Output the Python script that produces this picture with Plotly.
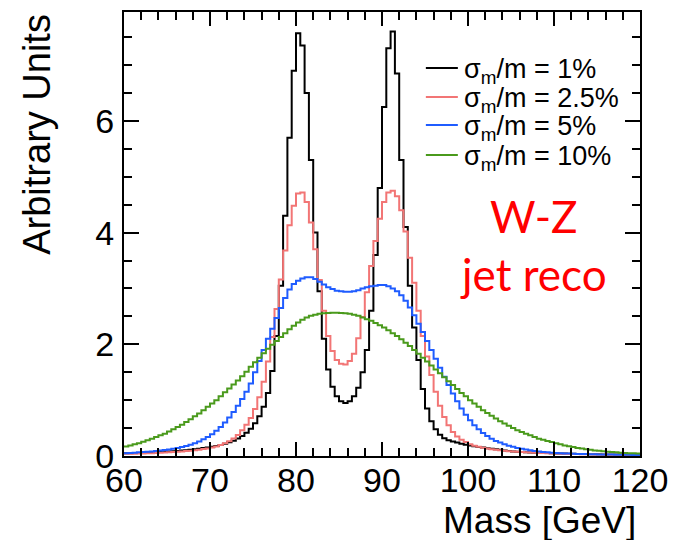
import numpy as np
import plotly.graph_objects as go

# ---- data (bin contents, 0.5 GeV bins from 60 to 120 GeV) ----
bin_start = 60.0
bin_width = 0.5

black_1pct = [
    0.05, 0.05, 0.052, 0.055, 0.057, 0.061, 0.064, 0.068, 0.072, 0.076,
    0.081, 0.086, 0.091, 0.097, 0.105, 0.113, 0.122, 0.131, 0.142, 0.154,
    0.167, 0.181, 0.197, 0.22, 0.245, 0.275, 0.315, 0.36, 0.415, 0.487,
    0.585, 0.71, 0.88, 1.13, 1.52, 2.15, 3.05, 4.3, 5.7, 6.9,
    7.57, 7.35, 6.5, 5.3, 4.0, 2.95, 2.1, 1.55, 1.24, 1.07,
    0.98, 0.95, 0.98, 1.07, 1.22, 1.5, 1.9, 2.6, 3.6, 4.8,
    6.25, 7.3, 7.6, 6.85, 5.3, 4.1, 3.05, 2.3, 1.72, 1.2,
    0.85, 0.62, 0.48, 0.38, 0.32, 0.28, 0.26, 0.24, 0.22, 0.2,
    0.19, 0.175, 0.16, 0.15, 0.14, 0.13, 0.12, 0.11, 0.1, 0.09,
    0.082, 0.077, 0.072, 0.068, 0.064, 0.06, 0.057, 0.054, 0.052, 0.05,
    0.047, 0.045, 0.043, 0.041, 0.039, 0.037, 0.035, 0.034, 0.032, 0.031,
    0.03, 0.029, 0.028, 0.027, 0.026, 0.025, 0.024, 0.023, 0.022, 0.021,
]

red_2p5pct = [
    0.04, 0.04, 0.042, 0.044, 0.046, 0.048, 0.051, 0.054, 0.058, 0.062,
    0.067, 0.071, 0.076, 0.082, 0.088, 0.096, 0.103, 0.112, 0.124, 0.136,
    0.153, 0.17, 0.197, 0.23, 0.262, 0.315, 0.378, 0.46, 0.56, 0.68,
    0.84, 1.05, 1.33, 1.69, 2.13, 2.63, 3.16, 3.68, 4.13, 4.48,
    4.7, 4.72, 4.55, 4.18, 3.7, 3.15, 2.6, 2.15, 1.88, 1.72,
    1.65, 1.64, 1.7, 1.83, 2.11, 2.49, 2.93, 3.4, 3.85, 4.25,
    4.55, 4.72, 4.75, 4.65, 4.4, 4.02, 3.55, 3.1, 2.6, 2.15,
    1.78, 1.45, 1.15, 0.9, 0.7, 0.55, 0.43, 0.35, 0.29, 0.25,
    0.21, 0.185, 0.165, 0.148, 0.133, 0.12, 0.11, 0.101, 0.094, 0.087,
    0.08, 0.075, 0.07, 0.066, 0.061, 0.058, 0.054, 0.052, 0.048, 0.046,
    0.044, 0.041, 0.039, 0.038, 0.035, 0.034, 0.033, 0.032, 0.03, 0.029,
    0.028, 0.027, 0.025, 0.024, 0.023, 0.023, 0.022, 0.021, 0.02, 0.02,
]

blue_5pct = [
    0.05, 0.055, 0.06, 0.065, 0.07, 0.075, 0.08, 0.088, 0.097, 0.107,
    0.118, 0.13, 0.145, 0.16, 0.18, 0.2, 0.23, 0.26, 0.3, 0.34,
    0.39, 0.45, 0.52, 0.6, 0.69, 0.79, 0.9, 1.02, 1.15, 1.3,
    1.5, 1.7, 1.9, 2.1, 2.28, 2.47, 2.65, 2.83, 2.98, 3.08,
    3.14, 3.18, 3.2, 3.2, 3.17, 3.12, 3.07, 3.02, 2.99, 2.96,
    2.95, 2.94, 2.94, 2.95, 2.97, 3.0, 3.02, 3.04, 3.05, 3.06,
    3.06, 3.04, 3.0, 2.95, 2.88, 2.78, 2.66, 2.52, 2.37, 2.22,
    2.06, 1.9, 1.74, 1.58, 1.42, 1.27, 1.12, 0.98, 0.85, 0.74,
    0.64, 0.55, 0.48, 0.41, 0.36, 0.31, 0.27, 0.24, 0.21, 0.185,
    0.165, 0.145, 0.13, 0.115, 0.102, 0.09, 0.08, 0.072, 0.065, 0.059,
    0.054, 0.05, 0.046, 0.043, 0.04, 0.038, 0.036, 0.034, 0.032, 0.03,
    0.029, 0.027, 0.026, 0.025, 0.024, 0.023, 0.022, 0.021, 0.02, 0.02,
]

green_10pct = [
    0.17, 0.19, 0.21, 0.23, 0.255, 0.28, 0.31, 0.34, 0.37, 0.4,
    0.44, 0.48, 0.52, 0.56, 0.61, 0.66, 0.71, 0.76, 0.82, 0.88,
    0.94, 1.0, 1.07, 1.14, 1.21, 1.28, 1.35, 1.43, 1.51, 1.6,
    1.68, 1.76, 1.84, 1.92, 1.99, 2.06, 2.13, 2.2, 2.27, 2.33,
    2.39, 2.44, 2.48, 2.51, 2.53, 2.545, 2.555, 2.56, 2.565, 2.565,
    2.56, 2.555, 2.545, 2.53, 2.51, 2.48, 2.45, 2.42, 2.38, 2.34,
    2.3, 2.25, 2.2, 2.15, 2.09, 2.03, 1.97, 1.9, 1.83, 1.76,
    1.69, 1.62, 1.55, 1.48, 1.41, 1.34, 1.27, 1.2, 1.13, 1.07,
    1.0, 0.94, 0.88, 0.82, 0.77, 0.72, 0.67, 0.62, 0.58, 0.54,
    0.5, 0.46, 0.43, 0.4, 0.37, 0.34, 0.31, 0.29, 0.27, 0.25,
    0.23, 0.21, 0.19, 0.175, 0.16, 0.145, 0.135, 0.12, 0.11, 0.1,
    0.092, 0.084, 0.077, 0.07, 0.065, 0.06, 0.055, 0.051, 0.048, 0.045,
]

series_names = [
    "σ<sub>m</sub>/m = 1%",
    "σ<sub>m</sub>/m = 2.5%",
    "σ<sub>m</sub>/m = 5%",
    "σ<sub>m</sub>/m = 10%",
]
series_values = [black_1pct, red_2p5pct, blue_5pct, green_10pct]
series_colors = ["#000000", "#f27575", "#1f5cff", "#4a9a1c"]

x_ticks = [60, 70, 80, 90, 100, 110, 120]
y_ticks = [0, 2, 4, 6]

FONT = "Liberation Sans, Arial, Helvetica, sans-serif"

fig = go.Figure()
for name, vals, col in zip(series_names, series_values, series_colors):
    n = len(vals)
    edges = bin_start + bin_width * np.arange(n + 1)
    yv = list(vals) + [vals[-1]]
    fig.add_trace(go.Scatter(
        x=edges, y=yv, mode="lines", name=name,
        line=dict(color=col, width=2, shape="hv"),
        hoverinfo="skip", showlegend=False,
    ))

axis_common = dict(
    showline=True, linecolor="black", linewidth=2, mirror="ticks",
    ticks="inside", tickcolor="black", tickwidth=1.5,
    showgrid=False, zeroline=False, automargin=False,
    tickfont=dict(family=FONT, size=34, color="black"),
)

fig.update_xaxes(
    range=[60, 120], tickvals=x_ticks, ticklen=14, ticklabelstandoff=-7,
    minor=dict(dtick=2, ticks="inside", ticklen=8, tickcolor="black", tickwidth=1.5),
    **axis_common,
)
fig.update_yaxes(
    range=[0, 7.95], tickvals=y_ticks, ticklen=15, ticklabelstandoff=1,
    minor=dict(dtick=0.5, ticks="inside", ticklen=8, tickcolor="black", tickwidth=1.5),
    **axis_common,
)

# ---- legend drawn as line samples + text (layout decoration) ----
legend_x0, legend_x1, legend_text_x = 0.585, 0.647, 0.655
legend_rows_y = [0.874, 0.8086, 0.7455, 0.678]
shapes = []
annotations = []
for name, col, ly in zip(series_names, series_colors, legend_rows_y):
    shapes.append(dict(type="line", xref="paper", yref="paper",
                       x0=legend_x0, x1=legend_x1, y0=ly, y1=ly,
                       line=dict(color=col, width=2)))
    annotations.append(dict(text=name, xref="paper", yref="paper",
                            x=legend_text_x, y=ly, xanchor="left", yanchor="middle",
                            yshift=-3, showarrow=False,
                            font=dict(family=FONT, size=27, color="black")))

annotations += [
    dict(text="Mass [GeV]", xref="paper", yref="paper", x=0.996, y=-0.146,
         xanchor="right", yanchor="middle", showarrow=False,
         font=dict(family=FONT, size=37, color="black")),
    dict(text="Arbitrary Units", xref="paper", yref="paper", x=-0.17, y=1.0,
         xanchor="center", yanchor="top", textangle=-90, showarrow=False,
         font=dict(family=FONT, size=38, color="black")),
    dict(text="W-Z", xref="paper", yref="paper", x=0.793, y=0.54,
         xanchor="center", yanchor="middle", showarrow=False,
         font=dict(family="Lato, Open Sans, sans-serif", size=44, color="#ff0000")),
    dict(text="jet reco", xref="paper", yref="paper", x=0.793, y=0.41,
         xanchor="center", yanchor="middle", showarrow=False,
         font=dict(family="Lato, Open Sans, sans-serif", size=44, color="#ff0000")),
]

fig.update_layout(
    width=675, height=540,
    margin=dict(l=124, r=35, t=12, b=84),
    paper_bgcolor="white", plot_bgcolor="white",
    showlegend=False,
    shapes=shapes,
    annotations=annotations,
)

fig.write_html("out.html", config={"displayModeBar": False},
               post_script="document.body.style.margin='0px';")
